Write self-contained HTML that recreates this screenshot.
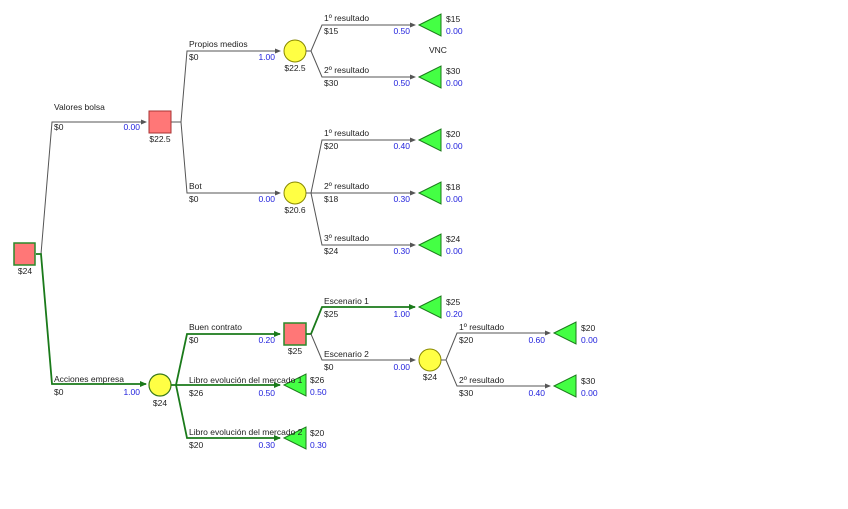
<!DOCTYPE html>
<html><head><meta charset="utf-8"><style>
html,body{margin:0;padding:0;background:#fff;}
svg{display:block;}
text{font-family:"Liberation Sans","DejaVu Sans",sans-serif;font-size:8.5px;fill:#222;}
.b{fill:#2222dd;}
.g{stroke:#1a7a1a;stroke-width:1.8;fill:none;}
.k{stroke:#555;stroke-width:1;fill:none;}
.tri{fill:#44ff44;stroke:#1a7a1a;stroke-width:1;}
.sq{fill:#ff7777;stroke:#aa3333;stroke-width:1;}
.sqg{fill:#ff7777;stroke:#2a8a2a;stroke-width:1.5;}
.ci{fill:#ffff44;stroke:#888800;stroke-width:1;}
.cig{fill:#ffff44;stroke:#3a7a1a;stroke-width:1.2;}
</style></head><body>
<svg width="848" height="509" viewBox="0 0 848 509" xmlns="http://www.w3.org/2000/svg">
<defs>
<marker id="ak" markerWidth="6" markerHeight="6" refX="5" refY="3" orient="auto" markerUnits="userSpaceOnUse"><path d="M0,0.5 L6,3 L0,5.5z" fill="#555"/></marker>
<marker id="ag" markerWidth="7" markerHeight="7" refX="6" refY="3.5" orient="auto" markerUnits="userSpaceOnUse"><path d="M0,0.5 L7,3.5 L0,6.5z" fill="#1a7a1a"/></marker>
</defs>

<path class="k" d="M41,254 L52,122 L146,122" marker-end="url(#ak)"/>
<path class="g" d="M36,254 L41,254 L52,384 L146,384" marker-end="url(#ag)"/>
<rect class="sqg" x="14" y="243" width="21" height="22"/>
<text x="25" y="274" text-anchor="middle">$24</text>
<text x="54" y="110">Valores bolsa</text><text x="54" y="130">$0</text><text x="140" y="130" text-anchor="end" class="b">0.00</text>
<text x="54" y="382">Acciones empresa</text><text x="54" y="395">$0</text><text x="140" y="395" text-anchor="end" class="b">1.00</text>

<path class="k" d="M171,122 L181,122 L187,51 L280,51" marker-end="url(#ak)"/>
<path class="k" d="M181,122 L187,193 L280,193" marker-end="url(#ak)"/>
<rect class="sq" x="149" y="111" width="22" height="22"/>
<text x="160" y="142" text-anchor="middle">$22.5</text>
<text x="189" y="47">Propios medios</text><text x="189" y="60">$0</text><text x="275" y="60" text-anchor="end" class="b">1.00</text>
<text x="189" y="189">Bot</text><text x="189" y="202">$0</text><text x="275" y="202" text-anchor="end" class="b">0.00</text>

<circle class="ci" cx="295" cy="51" r="11"/>
<text x="295" y="71" text-anchor="middle">$22.5</text>
<path class="k" d="M306,51 L311,51 L322,25 L415,25" marker-end="url(#ak)"/>
<path class="k" d="M311,51 L322,77 L415,77" marker-end="url(#ak)"/>
<text x="324" y="21">1º resultado</text><text x="324" y="34">$15</text><text x="410" y="34" text-anchor="end" class="b">0.50</text>
<text x="324" y="73">2º resultado</text><text x="324" y="86">$30</text><text x="410" y="86" text-anchor="end" class="b">0.50</text>
<polygon class="tri" points="419,25 441,14 441,36"/>
<polygon class="tri" points="419,77 441,66 441,88"/>
<text x="446" y="22">$15</text><text x="446" y="34" class="b">0.00</text>
<text x="446" y="74">$30</text><text x="446" y="86" class="b">0.00</text>
<text x="429" y="53">VNC</text>

<circle class="ci" cx="295" cy="193" r="11"/>
<text x="295" y="213" text-anchor="middle">$20.6</text>
<path class="k" d="M306,193 L311,193 L322,140 L415,140" marker-end="url(#ak)"/>
<path class="k" d="M311,193 L415,193" marker-end="url(#ak)"/>
<path class="k" d="M311,193 L322,245 L415,245" marker-end="url(#ak)"/>
<text x="324" y="136">1º resultado</text><text x="324" y="149">$20</text><text x="410" y="149" text-anchor="end" class="b">0.40</text>
<text x="324" y="189">2º resultado</text><text x="324" y="202">$18</text><text x="410" y="202" text-anchor="end" class="b">0.30</text>
<text x="324" y="241">3º resultado</text><text x="324" y="254">$24</text><text x="410" y="254" text-anchor="end" class="b">0.30</text>
<polygon class="tri" points="419,140 441,129 441,151"/>
<polygon class="tri" points="419,193 441,182 441,204"/>
<polygon class="tri" points="419,245 441,234 441,256"/>
<text x="446" y="137">$20</text><text x="446" y="149" class="b">0.00</text>
<text x="446" y="190">$18</text><text x="446" y="202" class="b">0.00</text>
<text x="446" y="242">$24</text><text x="446" y="254" class="b">0.00</text>

<circle class="cig" cx="160" cy="385" r="11"/>
<text x="160" y="406" text-anchor="middle">$24</text>
<path class="g" d="M171,385 L176,385 L187,334 L280,334" marker-end="url(#ag)"/>
<path class="g" d="M176,385 L280,385" marker-end="url(#ag)"/>
<path class="g" d="M176,385 L187,438 L280,438" marker-end="url(#ag)"/>
<polygon class="tri" points="284,385 306,374 306,396"/>
<polygon class="tri" points="284,438 306,427 306,449"/>
<text x="189" y="330">Buen contrato</text><text x="189" y="343">$0</text><text x="275" y="343" text-anchor="end" class="b">0.20</text>
<text x="189" y="383">Libro evolución del mercado 1</text><text x="189" y="396">$26</text><text x="275" y="396" text-anchor="end" class="b">0.50</text>
<text x="189" y="435">Libro evolución del mercado 2</text><text x="189" y="448">$20</text><text x="275" y="448" text-anchor="end" class="b">0.30</text>
<text x="310" y="383">$26</text><text x="310" y="395" class="b">0.50</text>
<text x="310" y="436">$20</text><text x="310" y="448" class="b">0.30</text>

<rect class="sqg" x="284" y="323" width="22" height="22"/>
<text x="295" y="354" text-anchor="middle">$25</text>
<path class="g" d="M306,334 L311,334 L322,307 L415,307" marker-end="url(#ag)"/>
<path class="k" d="M311,334 L322,360 L415,360" marker-end="url(#ak)"/>
<text x="324" y="304">Escenario 1</text><text x="324" y="317">$25</text><text x="410" y="317" text-anchor="end" class="b">1.00</text>
<text x="324" y="357">Escenario 2</text><text x="324" y="370">$0</text><text x="410" y="370" text-anchor="end" class="b">0.00</text>
<polygon class="tri" points="419,307 441,296 441,318"/>
<text x="446" y="305">$25</text><text x="446" y="317" class="b">0.20</text>

<circle class="ci" cx="430" cy="360" r="11"/>
<text x="430" y="380" text-anchor="middle">$24</text>
<path class="k" d="M441,360 L446,360 L457,333 L550,333" marker-end="url(#ak)"/>
<path class="k" d="M446,360 L457,386 L550,386" marker-end="url(#ak)"/>
<text x="459" y="330">1º resultado</text><text x="459" y="343">$20</text><text x="545" y="343" text-anchor="end" class="b">0.60</text>
<text x="459" y="383">2º resultado</text><text x="459" y="396">$30</text><text x="545" y="396" text-anchor="end" class="b">0.40</text>
<polygon class="tri" points="554,333 576,322 576,344"/>
<polygon class="tri" points="554,386 576,375 576,397"/>
<text x="581" y="331">$20</text><text x="581" y="343" class="b">0.00</text>
<text x="581" y="384">$30</text><text x="581" y="396" class="b">0.00</text>
</svg>
</body></html>
